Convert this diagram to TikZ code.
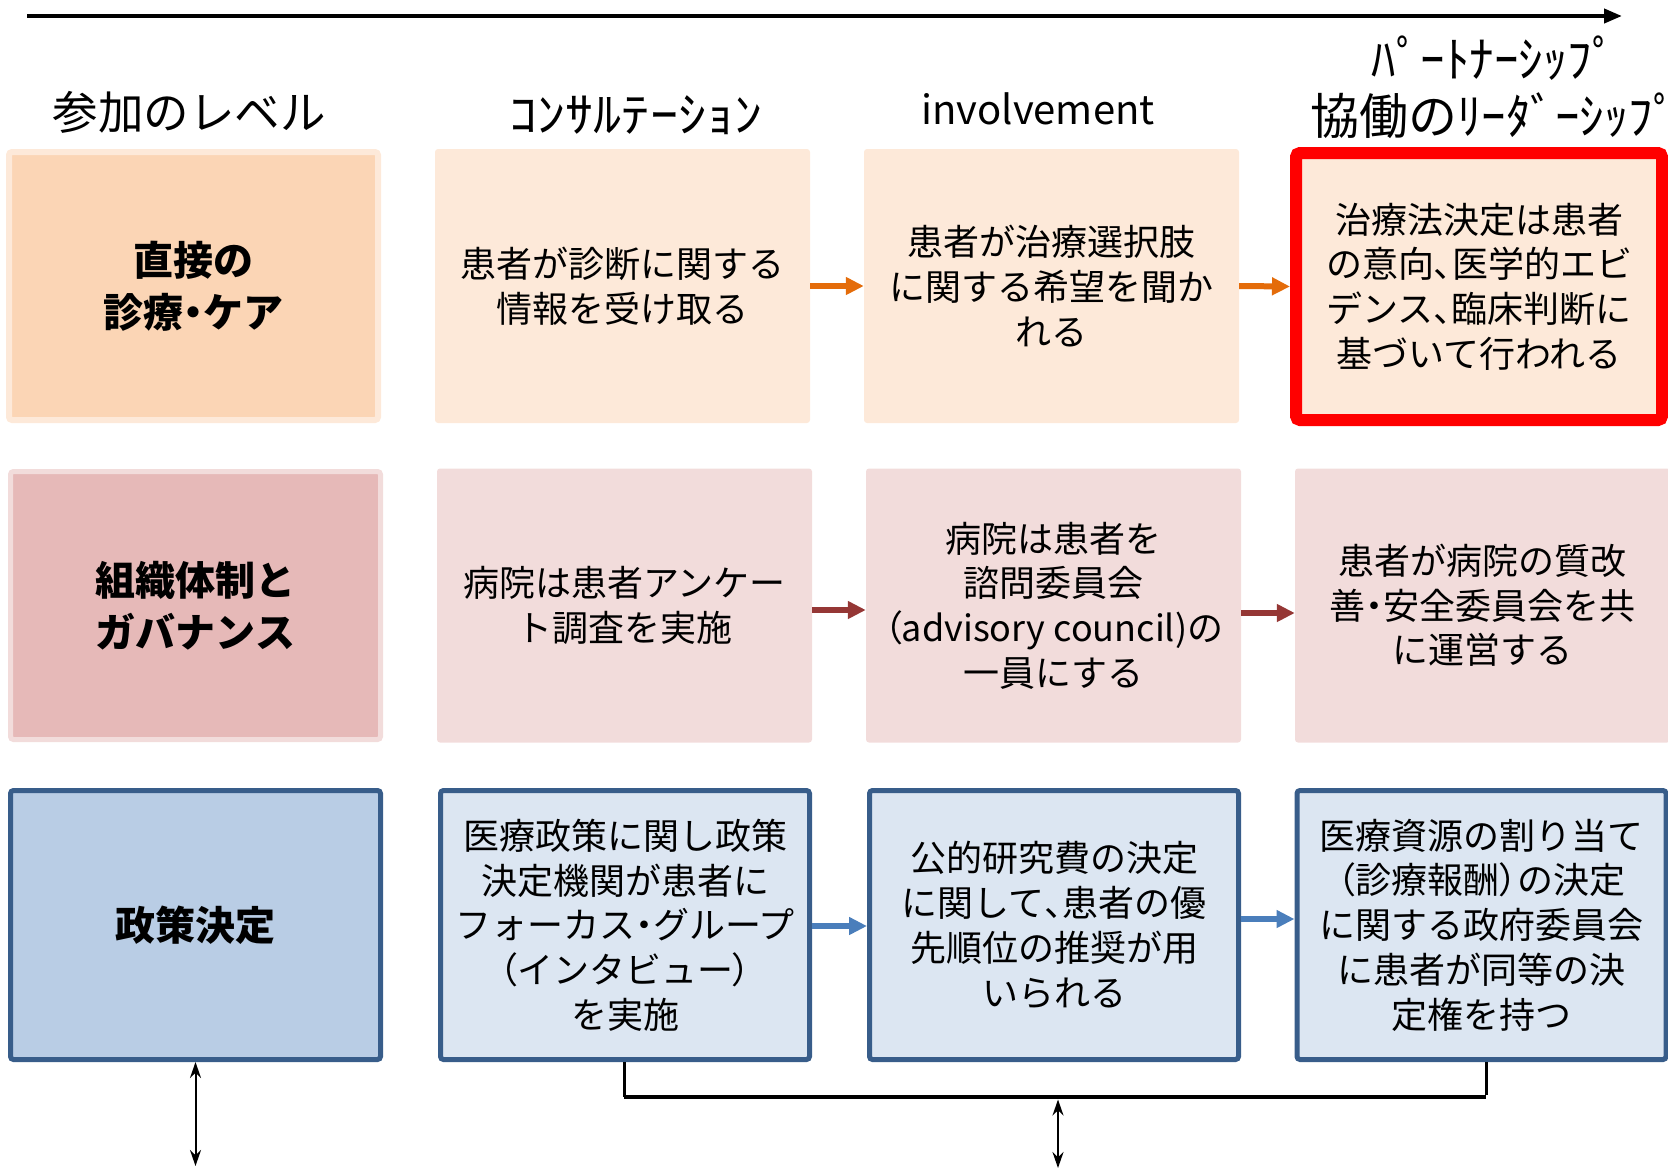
\documentclass[tikz,border=0pt]{standalone}
\usepackage{fontspec}
\newfontfamily\jp{Noto Sans CJK JP}
\newcommand\narrowp[1]{{\addfontfeature{RawFeature=+palt}#1}}
\usetikzlibrary{arrows.meta}
\definecolor{peachD}{HTML}{FBD5B5}
\definecolor{peachL}{HTML}{FDE9D9}
\definecolor{roseD}{HTML}{E6B9B8}
\definecolor{roseL}{HTML}{F2DCDB}
\definecolor{blueD}{HTML}{B9CDE5}
\definecolor{blueL}{HTML}{DCE6F2}
\definecolor{blueB}{HTML}{385D8A}
\definecolor{arrOrange}{HTML}{E46C0A}
\definecolor{arrRed}{HTML}{953735}
\definecolor{arrBlue}{HTML}{4A7EBB}
\tikzset{
  cell/.style={rectangle, rounded corners=3pt, align=center, inner sep=0pt,
    font=\jp\fontsize{36}{44.7}\selectfont, minimum width=375pt, minimum height=274pt},
  headcell/.style={cell, font=\jp\bfseries\fontsize{40}{52}\selectfont},
  rowA/.style={cell, fill=peachL},
  rowAhead/.style={headcell, fill=peachD, draw=peachL, line width=6pt, minimum width=369pt, minimum height=268pt},
  rowAred/.style={cell, fill=peachL, draw=red, line width=12pt, rounded corners=4pt, minimum width=366pt, minimum height=267pt},
  rowB/.style={cell, fill=roseL},
  rowBhead/.style={headcell, fill=roseD, draw=roseL, line width=5pt, minimum width=370pt, minimum height=268pt},
  rowC/.style={cell, fill=blueL, draw=blueB, line width=5pt, minimum width=369pt, minimum height=269pt},
  rowChead/.style={headcell, fill=blueD, draw=blueB, line width=5pt, minimum width=370pt, minimum height=269pt},
  hdr/.style={font=\jp\fontsize{45.5}{57}\selectfont, inner sep=0pt, align=center},
  flow/.style={line width=6pt, -{Triangle[length=18pt,width=17pt]}},
  dbl/.style={line width=2pt, {Stealth[length=16pt,width=11pt]}-{Stealth[length=16pt,width=11pt]}},
}
\begin{document}
\begin{tikzpicture}[x=1pt,y=-1pt]
\useasboundingbox (0,0) rectangle (1668,1168);

% top axis arrow
\coordinate (axL) at (27,16);
\coordinate (axR) at (1622,16);
\draw[line width=4pt, -{Triangle[length=18pt,width=14pt]}] (axL) -- (axR);

% headers
\node[hdr] (h0) at (189,112) {参加のレベル};
\node[hdr, font=\jp\fontsize{48}{57}\selectfont] (h1) at (636,115) {\scalebox{1.17}[1]{ｺﾝｻﾙﾃｰｼｮﾝ}};
\node[hdr, font=\jp\fontsize{40}{48}\selectfont] (h2) at (1038,109) {involvement};
\node[hdr, font=\jp\fontsize{49}{57}\selectfont] (h3) at (1494,87) {ﾊﾟｰﾄﾅｰｼｯﾌﾟ\\協働のﾘｰﾀﾞｰｼｯﾌﾟ};

% row 1
\node[rowAhead] (a1) at (193.5,286) {直接の\\診療\narrowp{・}ケア};
\node[rowA] (a2) at (622.5,286) {患者が診断に関する\\情報を受け取る};
\node[rowA] (a3) at (1051.5,286) {患者が治療選択肢\\に関する希望を聞か\\れる};
\node[rowAred] (a4) at (1479,286.5) {治療法決定は患者\\の意向\narrowp{、}医学的エビ\\デンス\narrowp{、}臨床判断に\\基づいて行われる};

% row 2
\node[rowBhead] (b1) at (195.5,605.5) {組織体制と\\ガバナンス};
\node[rowB] (b2) at (624.5,605.5) {病院は患者アンケー\\ト調査を実施};
\node[rowB] (b3) at (1053.5,605.5) {病院は患者を\\諮問委員会\\\narrowp{（}advisory council)の\\一員にする};
\node[rowB] (b4) at (1482.5,605.5) {患者が病院の質改\\善\narrowp{・}安全委員会を共\\に運営する};

% row 3
\node[rowChead] (c1) at (195.5,925) {政策決定};
\node[rowC] (c2) at (625,925) {医療政策に関し政策\\決定機関が患者に\\フォーカス\narrowp{・}グループ\\\narrowp{（}インタビュー\narrowp{）}\\を実施};
\node[rowC] (c3) at (1054,925) {公的研究費の決定\\に関して\narrowp{、}患者の優\\先順位の推奨が用\\いられる};
\node[rowC] (c4) at (1481.5,925) {医療資源の割り当て\\\narrowp{（}診療報酬\narrowp{）}の決定\\に関する政府委員会\\に患者が同等の決\\定権を持つ};

% flow arrows
\draw[flow, arrOrange] (a2.east) -- (a3.west);
\draw[flow, arrOrange] (a3.east) -- (a4.west);
\draw[flow, arrRed] ([yshift=-4.5pt]b2.east) -- ([yshift=-4.5pt]b3.west);
\draw[flow, arrRed] ([yshift=-7.5pt]b3.east) -- ([yshift=-7.5pt]b4.west);
\draw[flow, arrBlue] ([yshift=-1pt]c2.east) -- ([yshift=-1pt]c3.west);
\draw[flow, arrBlue] ([yshift=6pt]c3.east) -- ([yshift=6pt]c4.west);

% bottom connectors
\coordinate (lbot) at (195.5,1166);
\draw[dbl] (c1.south) -- (lbot);

\coordinate (bl) at (624,1097);
\coordinate (br) at (1486,1097);
\draw[line width=3pt] (bl |- c2.south) -- (bl);
\draw[line width=3pt] (br |- c4.south) -- ([yshift=2pt]br);
\draw[line width=4.5pt] (bl) -- (br);
\coordinate (mtop) at (1058,1099.5);
\coordinate (mbot) at (1058,1168);
\draw[dbl] (mtop) -- (mbot);
\end{tikzpicture}
\end{document}
